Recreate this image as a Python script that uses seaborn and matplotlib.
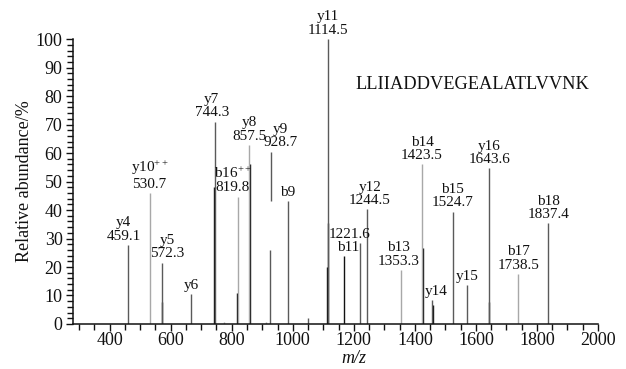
import numpy as np
import pandas as pd
import matplotlib
matplotlib.use("Agg")
import matplotlib.pyplot as plt
from matplotlib.ticker import MultipleLocator
import seaborn as sns

# peak list (m/z, relative abundance %)
peak_mz = [459.1, 530.7, 570.5, 572.3, 668.0, 742.5, 744.3, 774.0, 818.0, 819.8,
           857.5, 860.0, 911.0, 927.0, 928.7, 984.0, 1050.0, 1113.0, 1114.5, 1116.5,
           1168.4, 1221.6, 1244.5, 1353.3, 1423.5, 1426.0, 1456.5, 1458.5, 1524.7,
           1570.0, 1643.0, 1643.6, 1738.5, 1837.4]
peak_int = [27.7, 46.0, 7.8, 21.5, 10.5, 48.0, 71.0, 0.8, 11.0, 44.7,
            62.8, 56.0, 0.8, 26.0, 60.5, 43.2, 2.0, 20.0, 100.0, 35.5,
            23.9, 28.3, 40.2, 19.0, 56.0, 26.5, 8.4, 6.5, 39.4,
            13.7, 7.8, 54.6, 17.5, 35.3]
peak_base = [0] * len(peak_mz)
peak_base[14] = 43.0          # y9 line starts above the baseline in the original
peak_tone = ['g', 'l', 'd', 'g', 'g', 'd', 'g', 'l', 'd', 'l',
             'l', 'd', 'l', 'g', 'g', 'g', 'g', 'd', 'g', 'd',
             'd', 'g', 'g', 'l', 'l', 'd', 'g', 'd', 'g',
             'g', 'd', 'g', 'l', 'g']

# fragment annotations: label text, peak it sits on
label_text = ['y4\n459.1', 'y10$^{++}$\n530.7', 'y5\n572.3', 'y6', 'y7\n744.3',
              'b16$^{++}$\n819.8', 'y8\n857.5', 'y9\n928.7', 'b9', 'y11\n1114.5',
              'b11', '1221.6', 'y12\n1244.5', 'b13\n1353.3', 'b14\n1423.5', 'y14',
              'b15\n1524.7', 'y15', 'y16\n1643.6', 'b17\n1738.5', 'b18\n1837.4']
label_peak = [459.1, 530.7, 572.3, 668.0, 744.3, 819.8, 857.5, 928.7, 984.0, 1114.5,
              1168.4, 1221.6, 1244.5, 1353.3, 1423.5, 1456.5, 1524.7, 1570.0, 1643.6,
              1738.5, 1837.4]

sequence = 'LLIIADDVEGEALATLVVNK'

df = pd.DataFrame({'mz': peak_mz, 'intensity': peak_int, 'base': peak_base, 'tone': peak_tone})

sns.set_theme(style='ticks')
plt.rcParams['font.family'] = ['Liberation Serif', 'DejaVu Serif']
plt.rcParams['mathtext.fontset'] = 'custom'
plt.rcParams['mathtext.rm'] = 'Liberation Serif'
plt.rcParams['mathtext.it'] = 'Liberation Serif:italic'

fig = plt.figure(figsize=(6.26, 3.69), dpi=100)
ax = fig.add_axes([0.1166, 0.122, 0.8387, 0.772])

tones = {'g': '#5a5a5a', 'l': '#a8a8a8', 'd': '#111111'}
for tone, grp in df.groupby('tone'):
    ax.vlines(grp['mz'], grp['base'], grp['intensity'], color=tones[tone], lw=1.0)

# small shifts of the label centres so they sit as in the original
shift = {'y4\n459.1': -13, 'y5\n572.3': 17, 'y7\n744.3': -10, 'b16$^{++}$\n819.8': -16,
         'y9\n928.7': 30, 'b11': 13, '1221.6': -36, 'y12\n1244.5': 8,
         'b13\n1353.3': -8, 'y14': 13}
for txt, pk in zip(label_text, label_peak):
    top = df.loc[df['mz'] == pk, 'intensity'].iloc[0]
    ax.text(pk + shift.get(txt, 0), top + 0.8, txt, ha='center', va='bottom',
            fontsize=11, linespacing=1.05, color='#111111', clip_on=False)

ax.text(0.761, 0.839, sequence, transform=ax.transAxes, ha='center', va='center',
        fontsize=13.2, color='#111111')

ax.set_xlim(280, 2000)
ax.set_ylim(0, 100)
ax.set_xticks(np.arange(400, 2001, 200))
ax.xaxis.set_minor_locator(MultipleLocator(50))
ax.set_yticks(np.arange(0, 101, 10))
ax.yaxis.set_minor_locator(MultipleLocator(2))
ax.tick_params(which='major', length=5, width=1, labelsize=13, pad=0.5, color='#111111',
               labelcolor='#111111')
ax.tick_params(which='minor', length=4, width=1, color='#111111')
ax.tick_params(axis='y', which='major', pad=2.5)
sns.despine(ax=ax)
for s in ['left', 'bottom']:
    ax.spines[s].set_linewidth(1.1)
    ax.spines[s].set_color('#111111')

ax.set_ylabel('Relative abundance/%', fontsize=13, color='#111111', labelpad=2)
ax.set_xlabel('m/z', fontsize=13, fontstyle='italic', color='#111111')
ax.xaxis.set_label_coords(0.535, -0.092)

fig.savefig('out.png', dpi=100)
